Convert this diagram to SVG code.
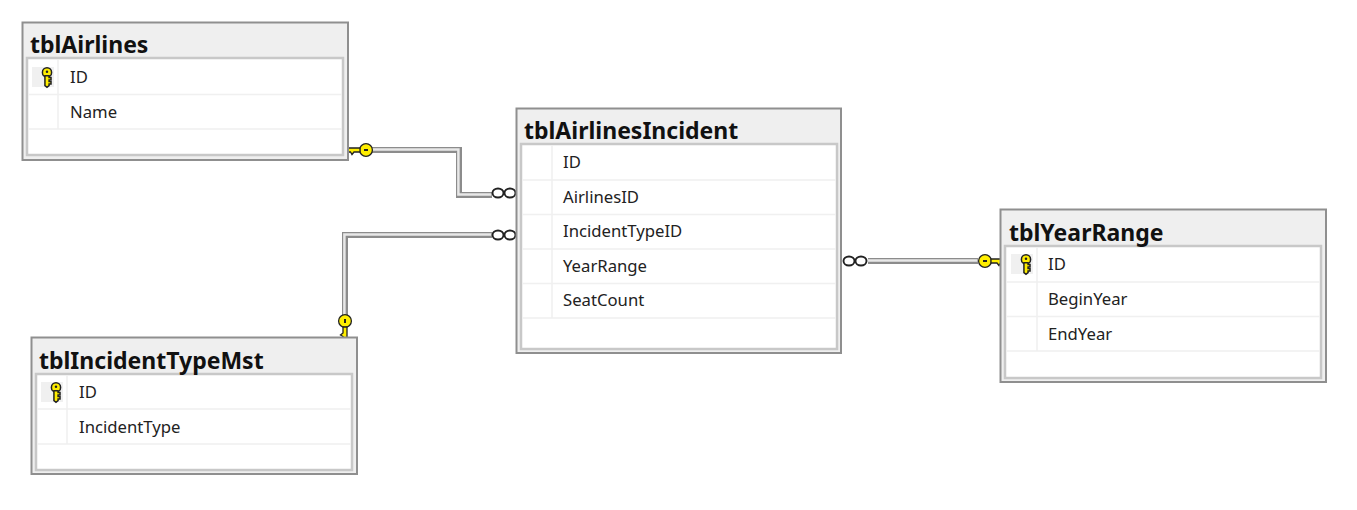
<svg xmlns="http://www.w3.org/2000/svg" width="1357" height="510" viewBox="0 0 1357 510">
<style>
.o{fill:#efefef;stroke:#8f8f8f;stroke-width:2}
.i{fill:#fff;stroke:#c8c8c8;stroke-width:2.5}
.t{font:bold 23px "Noto Sans","Open Sans",sans-serif;fill:#111}
.f{font:16.7px "Noto Sans","Open Sans",sans-serif;fill:#222}
.s{fill:none;stroke:#f0f0f0;stroke-width:1.5}
.k{fill:#f0f0f0}
.a{fill:none;stroke:#8c8c8c;stroke-width:6}
.b{fill:none;stroke:#e8e8e8;stroke-width:2.5;transform:translate(-.6px,-.6px)}
.c{fill:#fff;stroke:#222;stroke-width:1.9}
.y{fill:#ffee00;stroke:#222;stroke-width:1.3}
</style>
<defs>
<g id="rk"><circle cx="0" cy="-4" r="4" class="y"/><path d="M-1.800 -1V7.500L0 9L1.800 7.500V6H3.500V4H1.800V2.500H3.500V.5H1.800V-1Z" class="y"/><circle cx="0" cy="-4.500" r="1.100" fill="#222"/></g>
<g id="kh"><circle cx="0" cy="0" r="6.400" class="y" stroke-width="2"/><rect x="-2" y="-1" width="4" height="2" fill="#222"/><path d="M6 -2H22V2H20L19 4.500L17 2H15.500L14 4.500L12 2H6Z" class="y"/></g>
</defs>
<rect width="1357" height="510" fill="#fff"/>
<g id="connectors">
<path class="a" d="M372 150H459V195H492"/><path class="b" d="M372 150H459V195H492"/>
<path class="a" d="M345 318V235H492"/><path class="b" d="M345 318V235H492"/>
<path class="a" d="M868 261H978"/><path class="b" d="M868 261H978"/>
<use href="#kh" transform="translate(366 150) scale(-1 1)"/>
<use href="#kh" transform="translate(985 261)"/>
<use href="#kh" transform="translate(345 321) rotate(90)"/>
<ellipse class="c" cx="498" cy="193" rx="5.500" ry="4.500"/><ellipse class="c" cx="510" cy="193" rx="5.500" ry="4.500"/>
<ellipse class="c" cx="498" cy="235" rx="5.500" ry="4.500"/><ellipse class="c" cx="510" cy="235" rx="5.500" ry="4.500"/>
<ellipse class="c" cx="849" cy="261" rx="5.500" ry="4.500"/><ellipse class="c" cx="861" cy="261" rx="5.500" ry="4.500"/>
</g>
<g id="tblAirlines">
<rect class="o" x="22.500" y="22.500" width="325.500" height="137.500"/>
<rect class="i" x="27" y="58" width="316" height="97"/>
<path class="s" d="M28 94.500H342M28 129H342M58 59V129"/>
<rect class="k" x="32" y="67" width="22" height="20"/>
<use href="#rk" transform="translate(47 77) scale(1.150)"/>
<text class="t" x="30" y="53">tblAirlines</text>
<text class="f" x="70" y="82.500">ID</text><text class="f" x="70" y="117.500">Name</text>
</g>
<g id="tblAirlinesIncident">
<rect class="o" x="516.500" y="108.500" width="324.500" height="244.500"/>
<rect class="i" x="521" y="144" width="316" height="205"/>
<path class="s" d="M522 180H836M522 214.500H836M522 249H836M522 283.500H836M522 318H836M552 145V318"/>
<text class="t" x="524" y="139">tblAirlinesIncident</text>
<text class="f" x="563" y="167.500">ID</text><text class="f" x="563" y="202.500">AirlinesID</text><text class="f" x="563" y="236.500">IncidentTypeID</text><text class="f" x="563" y="271.500">YearRange</text><text class="f" x="563" y="305.500">SeatCount</text>
</g>
<g id="tblYearRange">
<rect class="o" x="1000.500" y="209.500" width="325.500" height="172.500"/>
<rect class="i" x="1005" y="246" width="316" height="132"/>
<path class="s" d="M1006 282H1320M1006 316.500H1320M1006 351H1320M1037 247V351"/>
<rect class="k" x="1011" y="254" width="22" height="20"/>
<use href="#rk" transform="translate(1026 264) scale(1.150)"/>
<text class="t" x="1009" y="241">tblYearRange</text>
<text class="f" x="1048" y="269.500">ID</text><text class="f" x="1048" y="304.500">BeginYear</text><text class="f" x="1048" y="339.500">EndYear</text>
</g>
<g id="tblIncidentTypeMst">
<rect class="o" x="31.500" y="337.500" width="325.500" height="136.500"/>
<rect class="i" x="36" y="374" width="316" height="96"/>
<path class="s" d="M37 409H351M37 444H351M67 375V444"/>
<rect class="k" x="41" y="382" width="22" height="20"/>
<use href="#rk" transform="translate(56 392) scale(1.150)"/>
<text class="t" x="39" y="369">tblIncidentTypeMst</text>
<text class="f" x="79" y="397.500">ID</text><text class="f" x="79" y="432.500">IncidentType</text>
</g>
</svg>
